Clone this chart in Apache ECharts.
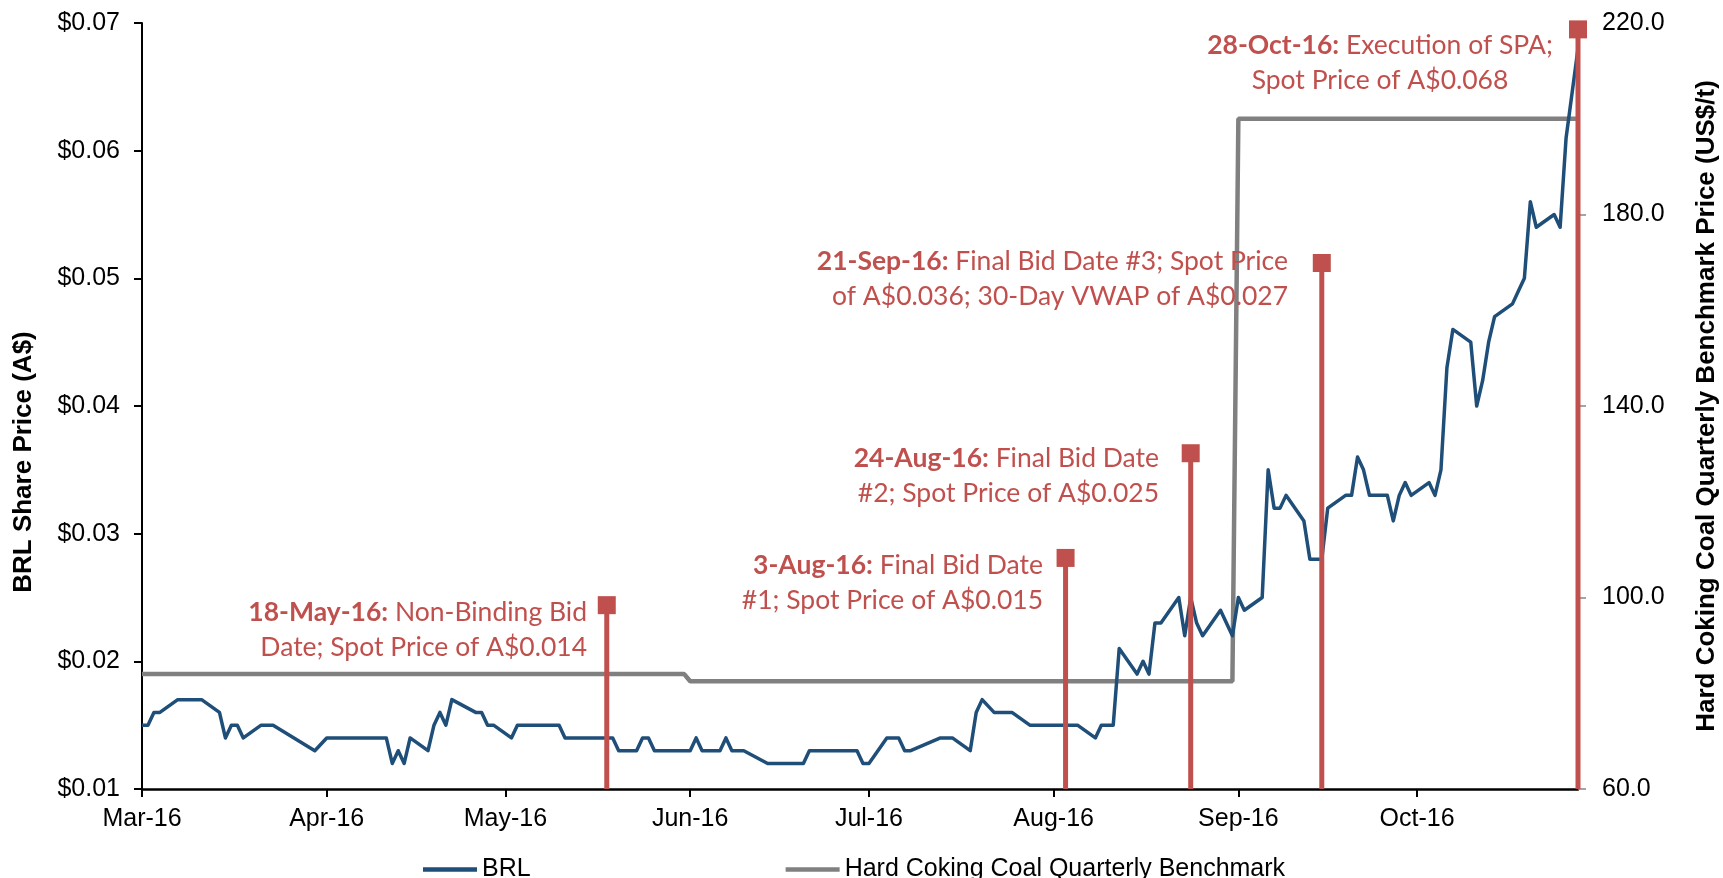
<!DOCTYPE html>
<html>
<head>
<meta charset="utf-8">
<script src="https://cdn.jsdelivr.net/npm/echarts@6/dist/echarts.min.js"></script>
<style>
  html, body { margin: 0; padding: 0; background: #fff; }
  #main { width: 1723px; height: 878px; }
</style>
</head>
<body>
<div id="main"></div>
<script>
// BRL share price (A$), daily closes
var brlDates = ['2016-03-01','2016-03-02','2016-03-03','2016-03-04','2016-03-07','2016-03-11','2016-03-14','2016-03-15','2016-03-16','2016-03-17','2016-03-18','2016-03-21','2016-03-23','2016-03-30','2016-04-01','2016-04-11','2016-04-12','2016-04-13','2016-04-14','2016-04-15','2016-04-18','2016-04-19','2016-04-20','2016-04-21','2016-04-22','2016-04-26','2016-04-27','2016-04-28','2016-04-29','2016-05-02','2016-05-03','2016-05-10','2016-05-11','2016-05-19','2016-05-20','2016-05-23','2016-05-24','2016-05-25','2016-05-26','2016-06-01','2016-06-02','2016-06-03','2016-06-06','2016-06-07','2016-06-08','2016-06-10','2016-06-14','2016-06-20','2016-06-21','2016-06-29','2016-06-30','2016-07-01','2016-07-04','2016-07-06','2016-07-07','2016-07-08','2016-07-13','2016-07-15','2016-07-18','2016-07-19','2016-07-20','2016-07-22','2016-07-25','2016-07-28','2016-08-05','2016-08-08','2016-08-09','2016-08-11','2016-08-12','2016-08-15','2016-08-16','2016-08-17','2016-08-18','2016-08-19','2016-08-22','2016-08-23','2016-08-24','2016-08-25','2016-08-26','2016-08-29','2016-08-31','2016-09-01','2016-09-02','2016-09-05','2016-09-06','2016-09-07','2016-09-08','2016-09-09','2016-09-12','2016-09-13','2016-09-15','2016-09-16','2016-09-19','2016-09-20','2016-09-21','2016-09-22','2016-09-23','2016-09-26','2016-09-27','2016-09-28','2016-09-29','2016-09-30','2016-10-03','2016-10-04','2016-10-05','2016-10-06','2016-10-07','2016-10-10','2016-10-11','2016-10-12','2016-10-13','2016-10-14','2016-10-17','2016-10-18','2016-10-19','2016-10-20','2016-10-21','2016-10-24','2016-10-25','2016-10-26','2016-10-28'];
var brlPrice = [0.015,0.015,0.016,0.016,0.017,0.017,0.016,0.014,0.015,0.015,0.014,0.015,0.015,0.013,0.014,0.014,0.012,0.013,0.012,0.014,0.013,0.015,0.016,0.015,0.017,0.016,0.016,0.015,0.015,0.014,0.015,0.015,0.014,0.014,0.013,0.013,0.014,0.014,0.013,0.013,0.014,0.013,0.013,0.014,0.013,0.013,0.012,0.012,0.013,0.013,0.012,0.012,0.014,0.014,0.013,0.013,0.014,0.014,0.013,0.016,0.017,0.016,0.016,0.015,0.015,0.014,0.015,0.015,0.021,0.019,0.020,0.019,0.023,0.023,0.025,0.022,0.025,0.023,0.022,0.024,0.022,0.025,0.024,0.025,0.035,0.032,0.032,0.033,0.031,0.028,0.028,0.032,0.033,0.033,0.036,0.035,0.033,0.033,0.031,0.033,0.034,0.033,0.034,0.033,0.035,0.043,0.046,0.045,0.040,0.042,0.045,0.047,0.048,0.049,0.050,0.056,0.054,0.055,0.054,0.061,0.068];

// Hard coking coal quarterly benchmark (US$/t)
var hccDates = ['2016-03-01','2016-05-31','2016-06-01','2016-08-31','2016-09-01','2016-10-28'];
var hccPrice = [84, 84, 82.5, 82.5, 200, 200];

// event markers (height on the A$ axis) and their notes
var eventDates = ['2016-05-18','2016-08-03','2016-08-24','2016-09-15','2016-10-28'];
var eventHeights = [0.0244, 0.0281, 0.0363, 0.0512, 0.0695];
var eventTitles = ['18-May-16:', '3-Aug-16:', '24-Aug-16:', '21-Sep-16:', '28-Oct-16:'];
var eventNotes = [
    'Non-Binding Bid\nDate; Spot Price of A$0.014',
    'Final Bid Date\n#1; Spot Price of A$0.015',
    'Final Bid Date\n#2; Spot Price of A$0.025',
    'Final Bid Date #3; Spot Price\nof A$0.036; 30-Day VWAP of A$0.027',
    'Execution of SPA;\nSpot Price of A$0.068'
];

// x axis ticks
var monthTicks = ['2016-03-01','2016-04-01','2016-05-01','2016-06-01','2016-07-01','2016-08-01','2016-09-01','2016-10-01'];
var monthLabels = ['Mar-16','Apr-16','May-16','Jun-16','Jul-16','Aug-16','Sep-16','Oct-16'];

function toTime(s) {
    return new Date(s + 'T00:00:00').getTime();
}

var myChart = echarts.init(document.getElementById('main'));

var brlData = [];
brlDates.forEach(function(d, i) {
    brlData.push([toTime(d), brlPrice[i]]);
});
var hccData = [];
hccDates.forEach(function(d, i) {
    hccData.push([toTime(d), hccPrice[i]]);
});
var eventData = [];
eventDates.forEach(function(d, i) {
    eventData.push([toTime(d), eventHeights[i]]);
});
var tickValues = monthTicks.map(toTime);

var red = '#C0504D';
var axisFont = '"Liberation Sans", Arial, sans-serif';
var noteFont = 26.5;

// where each note sits: [x, y, align]
var notePos = [
    [587, 630, 'right'],
    [1043, 583, 'right'],
    [1159, 476, 'right'],
    [1288, 279, 'right'],
    [1380, 63, 'center']
];
var noteGraphics = eventNotes.map(function(note, i) {
    return {
        type: 'text',
        x: notePos[i][0],
        y: notePos[i][1],
        z: 100,
        style: {
            text: '{b|' + eventTitles[i] + '} ' + note,
            align: notePos[i][2],
            verticalAlign: 'middle',
            fill: red,
            fontSize: noteFont,
            fontFamily: 'Lato',
            lineHeight: 35,
            rich: {
                b: { fontWeight: 'bold', fontSize: noteFont, fontFamily: 'Lato', fill: red, lineHeight: 35 }
            }
        }
    };
});

var option = {
    animation: false,
    backgroundColor: '#ffffff',
    grid: {
        left: 142,
        right: 145,
        top: 23,
        bottom: 89
    },
    legend: {
        left: 418,
        top: 852,
        icon: 'rect',
        itemWidth: 54,
        itemHeight: 4.5,
        itemGap: 255,
        textStyle: {
            fontFamily: axisFont,
            fontSize: 25,
            color: '#000'
        },
        data: ['BRL', 'Hard Coking Coal Quarterly Benchmark']
    },
    xAxis: {
        type: 'value',
        min: toTime('2016-03-01'),
        max: toTime('2016-10-28'),
        axisLine: { lineStyle: { color: '#000', width: 2.5 } },
        axisTick: {
            show: true,
            length: 8,
            customValues: tickValues,
            lineStyle: { color: '#000', width: 2 }
        },
        axisLabel: {
            customValues: tickValues,
            margin: 18,
            fontFamily: axisFont,
            fontSize: 25,
            color: '#000',
            formatter: function(value) {
                var idx = tickValues.indexOf(value);
                return idx >= 0 ? monthLabels[idx] : '';
            }
        },
        splitLine: { show: false }
    },
    yAxis: [{
        type: 'value',
        min: 0.01,
        max: 0.07,
        interval: 0.01,
        axisLine: { show: true, lineStyle: { color: '#000', width: 2 } },
        axisTick: { show: true, length: 8, lineStyle: { color: '#000', width: 2 } },
        axisLabel: {
            margin: 22,
            fontFamily: axisFont,
            fontSize: 25,
            color: '#000',
            formatter: function(value) {
                return '$' + value.toFixed(2);
            }
        },
        splitLine: { show: false }
    }, {
        type: 'value',
        position: 'right',
        min: 60,
        max: 220,
        interval: 40,
        axisLine: { show: true, lineStyle: { color: '#868686', width: 1.5 } },
        axisTick: { show: true, length: 8, lineStyle: { color: '#868686', width: 1.5 } },
        axisLabel: {
            margin: 24,
            fontFamily: axisFont,
            fontSize: 25,
            color: '#000',
            formatter: function(value) {
                return value.toFixed(1);
            }
        },
        splitLine: { show: false }
    }],
    graphic: [{
        type: 'text',
        x: 24,
        y: 462,
        rotation: Math.PI / 2,
        style: {
            text: 'BRL Share Price (A$)',
            align: 'center',
            verticalAlign: 'middle',
            fontFamily: axisFont,
            fontWeight: 'bold',
            fontSize: 26,
            fill: '#000'
        }
    }, {
        type: 'text',
        x: 1707,
        y: 406,
        rotation: Math.PI / 2,
        style: {
            text: 'Hard Coking Coal Quarterly Benchmark Price (US$/t)',
            align: 'center',
            verticalAlign: 'middle',
            fontFamily: axisFont,
            fontWeight: 'bold',
            fontSize: 26,
            fill: '#000'
        }
    }].concat(noteGraphics),
    series: [{
        name: 'Hard Coking Coal Quarterly Benchmark',
        type: 'line',
        yAxisIndex: 1,
        data: hccData,
        symbol: 'none',
        lineStyle: { color: '#808080', width: 4.5 },
        itemStyle: { color: '#808080' },
        z: 2
    }, {
        name: 'BRL',
        type: 'line',
        yAxisIndex: 0,
        data: brlData,
        symbol: 'none',
        lineStyle: { color: '#1F4E79', width: 3.5, join: 'round' },
        itemStyle: { color: '#1F4E79' },
        z: 3
    }, {
        name: 'Events',
        type: 'custom',
        yAxisIndex: 0,
        data: eventData,
        encode: { x: 0, y: 1 },
        z: 4,
        renderItem: function(params, api) {
            var top = api.coord([api.value(0), api.value(1)]);
            var base = api.coord([api.value(0), 0.01]);
            return {
                type: 'group',
                children: [{
                    type: 'line',
                    shape: { x1: top[0], y1: base[1], x2: top[0], y2: top[1] },
                    style: { stroke: red, lineWidth: 5 }
                }, {
                    type: 'rect',
                    shape: { x: top[0] - 9, y: top[1] - 9, width: 18, height: 18 },
                    style: { fill: red }
                }]
            };
        }
    }]
};
myChart.setOption(option);
</script>
</body>
</html>
